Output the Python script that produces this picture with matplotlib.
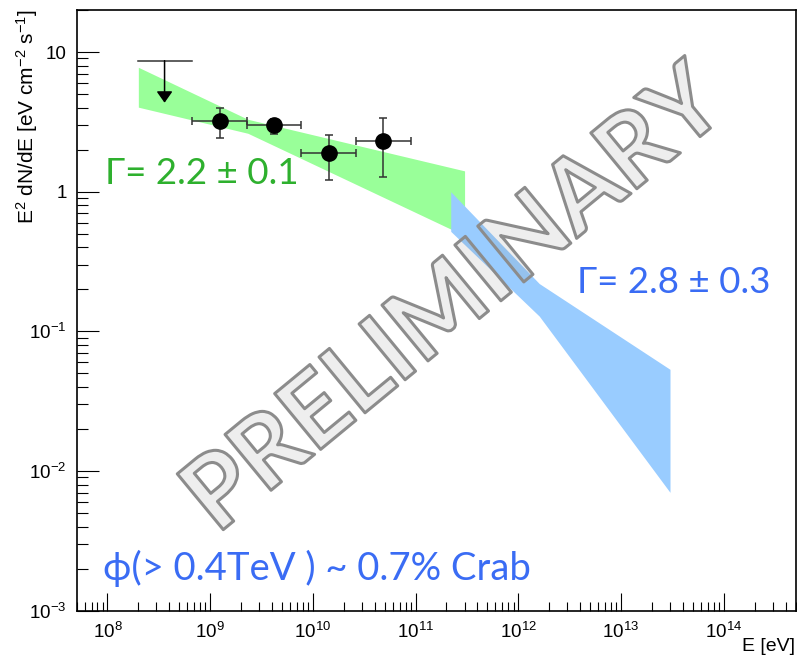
import matplotlib
matplotlib.use("Agg")
import matplotlib.pyplot as plt
import matplotlib.patheffects as pe
from matplotlib.ticker import FixedLocator, LogLocator, NullFormatter, FixedFormatter

# ---- spectral points (E in eV, E^2 dN/dE in eV cm^-2 s^-1) ----
e_pts = [1.25e9, 4.2e9, 1.43e10, 4.85e10]
e_lo = [6.7e8, 2.26e9, 7.7e9, 2.63e10]
e_hi = [2.26e9, 7.7e9, 2.63e10, 9.0e10]
f_pts = [3.23, 2.99, 1.89, 2.32]
f_lo = [2.44, 2.59, 1.21, 1.27]
f_hi = [3.98, 3.34, 2.55, 3.36]

# upper limit in the lowest energy bin
ul_e = 3.6e8
ul_e_lo = 2.0e8
ul_e_hi = 6.7e8
ul_f = 8.67

# GeV power-law butterfly (Gamma = 2.2 +- 0.1)
gev_e = [2.0e8, 2.33e9, 3.0e11]
gev_up = [7.78, 3.30, 1.41]
gev_dn = [4.03, 2.62, 0.485]

# TeV power-law butterfly (Gamma = 2.8 +- 0.3)
tev_e = [2.2e11, 1.6e12, 3.0e13]
tev_up = [1.0, 0.220, 0.0535]
tev_dn = [0.52, 0.1286, 0.00704]

# axis ticks
x_major = [1e8, 1e9, 1e10, 1e11, 1e12, 1e13, 1e14]
x_labels = [r"$10^{8}$", r"$10^{9}$", r"$10^{10}$", r"$10^{11}$",
            r"$10^{12}$", r"$10^{13}$", r"$10^{14}$"]
y_major = [1e-3, 1e-2, 1e-1, 1, 10]
y_labels = [r"$10^{-3}$", r"$10^{-2}$", r"$10^{-1}$", "1", "10"]

plt.rcParams["font.family"] = ["Liberation Sans", "DejaVu Sans"]
plt.rcParams["mathtext.fontset"] = "custom"
plt.rcParams["mathtext.rm"] = "Liberation Sans"
plt.rcParams["mathtext.it"] = "Liberation Sans:italic"
plt.rcParams["mathtext.bf"] = "Liberation Sans:bold"

W, H = 797, 663
fig = plt.figure(figsize=(W / 100, H / 100), dpi=100)
ax = fig.add_axes([76.5 / W, 1 - 610.7 / H, (795.5 - 76.5) / W, (610.7 - 10) / H])

ax.set_xscale("log")
ax.set_yscale("log")
ax.set_xlim(5e7, 5e14)
ax.set_ylim(1e-3, 20)

green_band = "#99ff99"
blue_band = "#99ccff"
ax.fill_between(gev_e, gev_dn, gev_up, color=green_band, lw=0, zorder=1)
ax.fill_between(tev_e, tev_dn, tev_up, color=blue_band, lw=0, zorder=2)

# flux points
xerr = [[c - l for c, l in zip(e_pts, e_lo)], [h - c for c, h in zip(e_pts, e_hi)]]
yerr = [[c - l for c, l in zip(f_pts, f_lo)], [h - c for c, h in zip(f_pts, f_hi)]]
ax.errorbar(e_pts, f_pts, xerr=xerr, yerr=yerr, fmt="o", color="black",
            ms=11, ecolor="#333333", elinewidth=1.1, capsize=2.9, capthick=1.1,
            zorder=6)

# upper limit: bar across the bin and a downward arrow
ax.plot([ul_e_lo, ul_e_hi], [ul_f, ul_f], color="#333333", lw=1.1, zorder=6)
ax.annotate("", xy=(ul_e, ul_f * 0.5), xytext=(ul_e, ul_f),
            arrowprops=dict(arrowstyle="-|>,head_length=0.68,head_width=0.48",
                            mutation_scale=10, color="black", lw=1.1,
                            shrinkA=0, shrinkB=0),
            zorder=6)

# annotations
lbl_font = ["Lato", "Open Sans", "DejaVu Sans"]
fig.text(105 / W, 1 - 184.3 / H, "Γ= 2.2 ± 0.1", fontsize=26.5,
         family=lbl_font, color="#2eb02e", ha="left", va="baseline")
fig.text(576.7 / W, 1 - 292.7 / H, "Γ= 2.8 ± 0.3", fontsize=26.5,
         family=lbl_font, color="#3a6cf4", ha="left", va="baseline")
fig.text(103 / W, 1 - 580 / H, "ϕ(> 0.4TeV ) ~ 0.7% Crab", fontsize=27.5,
         family=lbl_font, color="#3a6cf4", ha="left", va="baseline")

# watermark
ax.text(0.527, 0.515, "PRELIMINARY", transform=ax.transAxes, rotation=39.5,
        rotation_mode="anchor", ha="center", va="center", fontsize=72,
        family=lbl_font, weight="bold", zorder=5,
        path_effects=[pe.PathPatchEffect(facecolor=(0.5, 0.5, 0.5, 0.13),
                                         edgecolor="#8c8c8c", linewidth=2.2,
                                         joinstyle="round")])

# axes styling
for s in ax.spines.values():
    s.set_linewidth(1.2)
    s.set_color("black")
ax.xaxis.set_major_locator(FixedLocator(x_major))
ax.xaxis.set_major_formatter(FixedFormatter(x_labels))
ax.xaxis.set_minor_locator(LogLocator(base=10, subs=range(2, 10), numticks=20))
ax.xaxis.set_minor_formatter(NullFormatter())
ax.yaxis.set_major_locator(FixedLocator(y_major))
ax.yaxis.set_major_formatter(FixedFormatter(y_labels))
ax.yaxis.set_minor_locator(LogLocator(base=10, subs=range(2, 10), numticks=20))
ax.yaxis.set_minor_formatter(NullFormatter())
ax.tick_params(axis="x", which="major", direction="in", length=13, width=0.8,
               labelsize=13.5, pad=8)
ax.tick_params(axis="x", which="minor", direction="in", length=6.5, width=0.8)
ax.tick_params(axis="y", which="major", direction="in", length=15.5, width=0.8,
               labelsize=13.5, pad=7)
ax.tick_params(axis="y", which="minor", direction="in", length=7.8, width=0.8)

fig.text(27 / W, 1 - 9 / H, r"E$^{2}$ dN/dE [eV cm$^{-2}$ s$^{-1}$]",
         rotation=90, ha="center", va="top", fontsize=15)
fig.text(795 / W, 1 - 651 / H, "E [eV]", ha="right", va="baseline", fontsize=14)

fig.savefig("out.png", dpi=100)
